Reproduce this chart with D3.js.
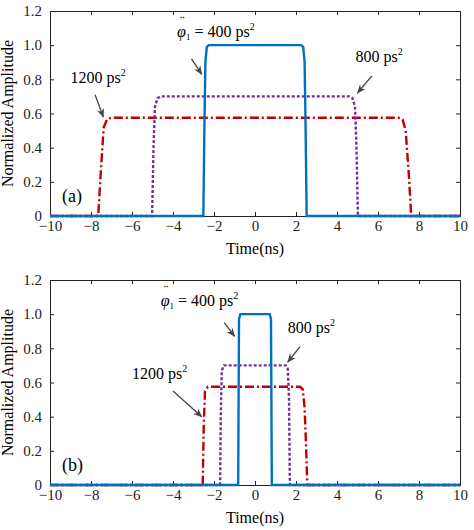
<!DOCTYPE html>
<html><head><meta charset="utf-8">
<script src="https://cdn.jsdelivr.net/npm/d3@7"></script>
<style>
body{margin:0;background:#fff}
text{font-family:"Liberation Serif","Times New Roman",serif}
</style></head>
<body><svg id="chart" width="474" height="530"></svg>
<script>
// pulse shapes, [time ns, amplitude]
const a400 = [[-10,0],[-2.52,0],[-2.47,0.5],[-2.42,0.9],[-2.35,0.99],[-2.25,1],[2.25,1],[2.35,0.99],[2.42,0.9],[2.47,0.5],[2.52,0],[10,0]];
const a800 = [[-10,0],[-5.02,0],[-4.95,0.4],[-4.88,0.64],[-4.75,0.69],[-4.6,0.7],[4.6,0.7],[4.75,0.69],[4.88,0.64],[4.95,0.4],[5.02,0],[10,0]];
const a1200 = [[-10,0],[-7.65,0],[-7.5,0.3],[-7.38,0.52],[-7.2,0.57],[-7.0,0.575],[7.0,0.575],[7.2,0.565],[7.35,0.5],[7.5,0.25],[7.62,0],[10,0]];
const b400 = [[-10,0],[-0.82,0],[-0.8,0.5],[-0.78,0.97],[-0.72,1],[0.72,1],[0.78,0.97],[0.8,0.5],[0.82,0],[10,0]];
const b800 = [[-10,0],[-1.7,0],[-1.67,0.4],[-1.62,0.67],[-1.52,0.7],[1.5,0.7],[1.6,0.68],[1.66,0.5],[1.7,0],[10,0]];
const b1200 = [[-10,0],[-2.55,0],[-2.5,0.35],[-2.44,0.55],[-2.3,0.575],[2.2,0.575],[2.33,0.56],[2.42,0.45],[2.5,0.2],[2.55,0],[10,0]];
const xTicks = [-10,-8,-6,-4,-2,0,2,4,6,8,10];
const yTicks = [0,0.2,0.4,0.6,0.8,1.0,1.2];

const svg = d3.select('#chart');
svg.append('defs').append('marker').attr('id','ah').attr('viewBox','0 0 10 10')
  .attr('refX',9).attr('refY',5).attr('markerWidth',7).attr('markerHeight',7).attr('orient','auto')
  .append('path').attr('d','M0,1L10,5L0,9L3,5Z').attr('fill','#444');

function panel(top, series, label, notes) {
  const margin = {left: 50, right: 14};
  const innerWidth = 474 - margin.left - margin.right;
  const innerHeight = 205;
  const g = svg.append('g').attr('transform', `translate(${margin.left},${top})`);
  const x = d3.scaleLinear().domain([-10,10]).range([0, innerWidth]);
  const y = d3.scaleLinear().domain([0,1.2]).range([innerHeight, 0]);

  g.append('g').attr('transform', `translate(0,${innerHeight})`)
    .call(d3.axisBottom(x).tickValues(xTicks).tickSize(-4).tickPadding(4).tickFormat(d => d < 0 ? '\u2212' + (-d) : d));
  g.append('g')
    .call(d3.axisLeft(y).tickValues(yTicks).tickSize(-4).tickPadding(8).tickFormat(d => d === 0 ? '0' : d.toFixed(1)));
  g.append('g').call(d3.axisTop(x).tickValues(xTicks).tickSize(-4).tickFormat(''));
  g.append('g').attr('transform', `translate(${innerWidth},0)`).call(d3.axisRight(y).tickValues(yTicks).tickSize(-4).tickFormat(''));
  g.selectAll('.tick text').attr('font-size', 15).attr('fill', '#222').style('font-family', '"Liberation Serif",serif');
  g.selectAll('.domain').attr('stroke', '#222');
  g.selectAll('.tick line').attr('stroke', '#222');

  const line = d3.line().x(d => x(d[0])).y(d => y(d[1]));
  const styles = [
    {color: '#c00000', dash: '9,3,2,3'},
    {color: '#7030a0', dash: '3,2'},
    {color: '#0070c0', dash: null}
  ];
  series.forEach((s, i) => {
    g.append('path').datum(s).attr('d', line).attr('fill', 'none')
      .attr('stroke', styles[i].color).attr('stroke-width', 2.4)
      .attr('stroke-dasharray', styles[i].dash);
  });

  g.append('text').attr('x', 12).attr('y', innerHeight - 14).attr('font-size', 18).text(label);
  g.append('text').attr('x', innerWidth / 2).attr('y', innerHeight + 38)
    .attr('text-anchor', 'middle').attr('font-size', 16).text('Time(ns)');
  g.append('text').attr('transform', 'rotate(-90)').attr('x', -innerHeight / 2).attr('y', -37)
    .attr('text-anchor', 'middle').attr('font-size', 16).text('Normalized Amplitude');

  notes.forEach(n => {
    const t = g.append('text').attr('x', x(n.tx)).attr('y', y(n.ty)).attr('font-size', 16);
    if (n.phi) {
      t.append('tspan').attr('font-style', 'italic').text('\u03C6');
      t.append('tspan').attr('font-size', 9).attr('dy', 3).text('1');
      t.append('tspan').attr('dy', -3).text(' = ' + n.text + ' ps');
      g.append('text').attr('x', x(n.tx) + 3).attr('y', y(n.ty) - 11).attr('font-size', 14).text('\u00A8');
    } else {
      t.append('tspan').text(n.text + ' ps');
    }
    t.append('tspan').attr('font-size', 10).attr('dy', -7).text('2');
    g.append('line').attr('x1', x(n.a[0])).attr('y1', y(n.a[1])).attr('x2', x(n.a[2])).attr('y2', y(n.a[3]))
      .attr('stroke', '#444').attr('stroke-width', 1.3).attr('marker-end', 'url(#ah)');
  });
}

panel(11, [a1200, a800, a400], '(a)', [
  {tx: -3.8, ty: 1.05, text: '400', phi: true, a: [-3.1, 0.92, -2.6, 0.83]},
  {tx: 4.9, ty: 0.9, text: '800', a: [5.7, 0.82, 5.0, 0.72]},
  {tx: -9.0, ty: 0.78, text: '1200', a: [-7.8, 0.71, -7.4, 0.58]}
]);
panel(280, [b1200, b800, b400], '(b)', [
  {tx: -4.6, ty: 1.05, text: '400', phi: true, a: [-1.5, 0.95, -1.0, 0.87]},
  {tx: 1.6, ty: 0.89, text: '800', a: [2.2, 0.81, 1.6, 0.72]},
  {tx: -6.0, ty: 0.62, text: '1200', a: [-4.0, 0.55, -2.6, 0.4]}
]);
</script></body></html>
